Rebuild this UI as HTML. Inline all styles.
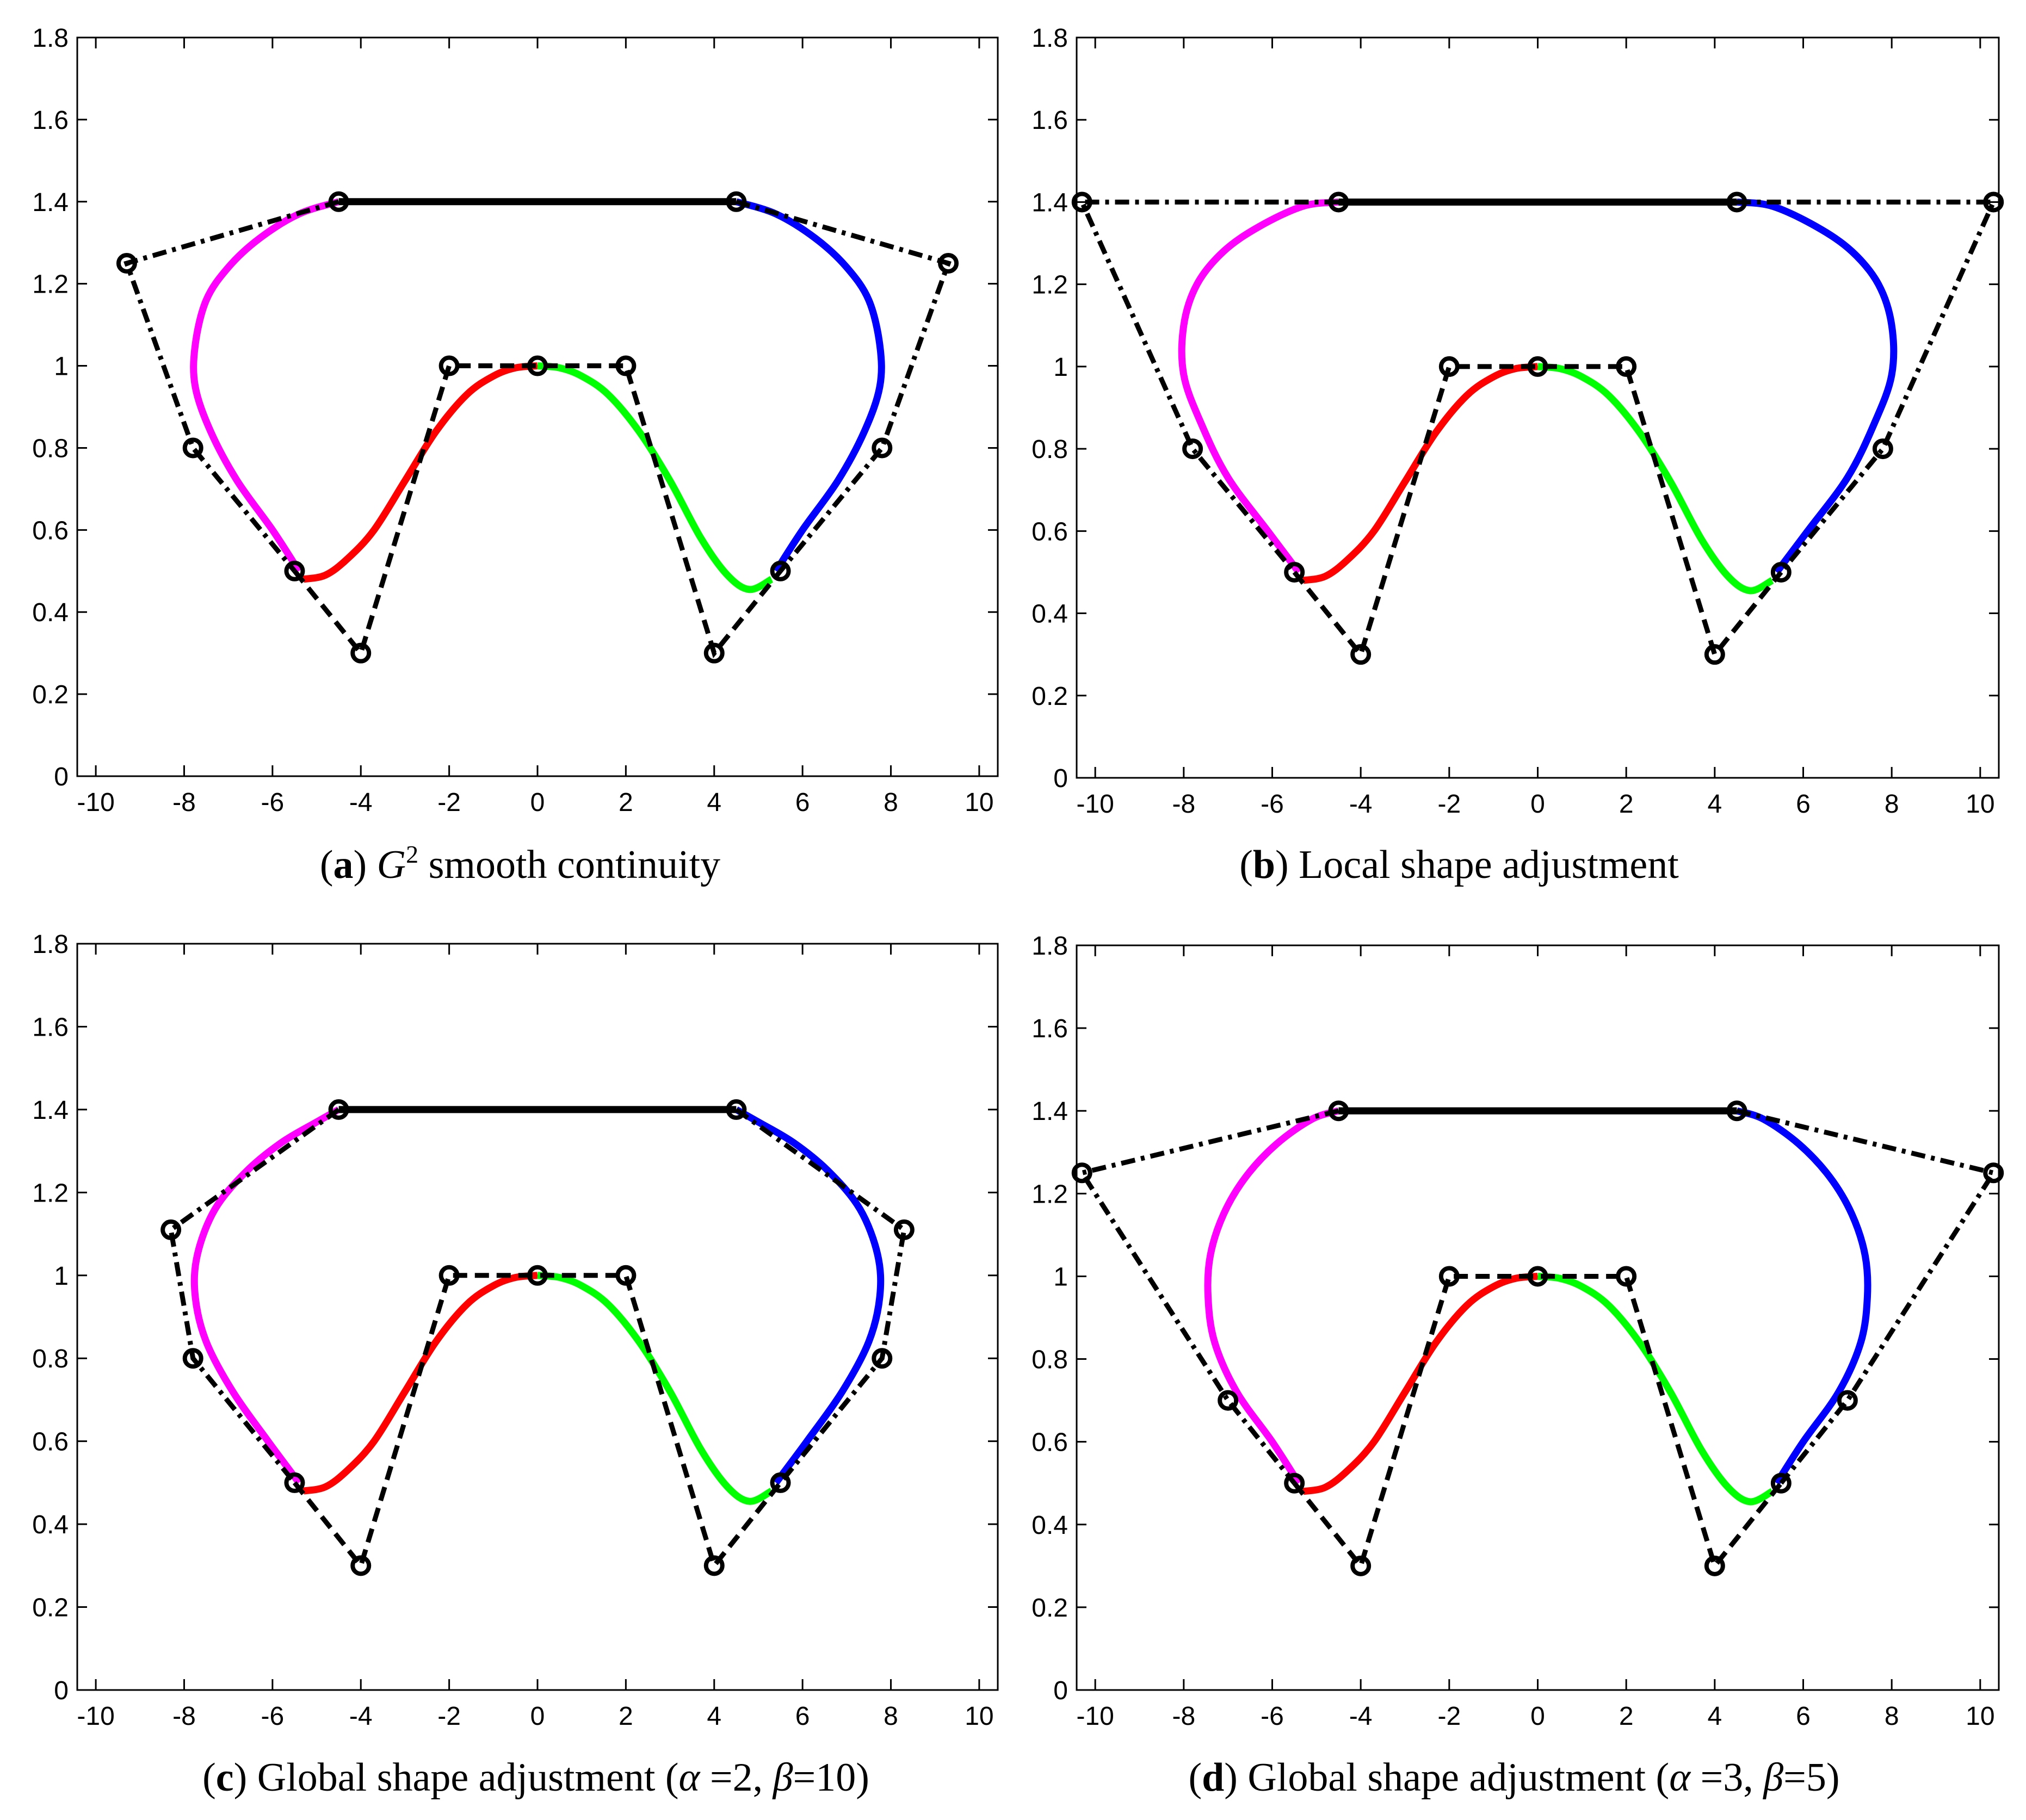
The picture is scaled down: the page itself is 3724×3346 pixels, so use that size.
<!DOCTYPE html>
<html><head><meta charset="utf-8"><style>
html,body{margin:0;padding:0;background:#fff;}
svg{display:block;}
</style></head><body>
<svg id="fig" xmlns="http://www.w3.org/2000/svg" width="3724" height="3346" viewBox="0 0 3724 3346"></svg>
<script>
const yTicks = [0,0.2,0.4,0.6,0.8,1,1.2,1.4,1.6,1.8];
const yTickLabels = ["0","0.2","0.4","0.6","0.8","1","1.2","1.4","1.6","1.8"];
const xTicks = [-10,-8,-6,-4,-2,0,2,4,6,8,10];
const xTickLabels = ["-10","-8","-6","-4","-2","0","2","4","6","8","10"];
const panelIds = ["a","b","c","d"];
// inner (dashed) polygon shared by all panels
const innerX = [-5.5,-4,-2,0,2,4,5.5];
const innerY = [0.5,0.3,1,1,1,0.3,0.5];
// outer dash-dot polygons per panel (left side; right side mirrored)
const outerLX_a = [-4.5,-9.3,-7.8,-5.5], outerLY_a = [1.4,1.25,0.8,0.5];
const outerLX_b = [-4.5,-10.3,-7.8,-5.5], outerLY_b = [1.4,1.4,0.8,0.5];
const outerLX_c = [-4.5,-8.3,-7.8,-5.5], outerLY_c = [1.4,1.11,0.8,0.5];
const outerLX_d = [-4.5,-10.3,-7.0,-5.5], outerLY_d = [1.4,1.25,0.7,0.5];
// curves
const redX = [-5.3,-4.8,-4.3,-3.7,-3,-2.3,-1.6,-1,-0.5,0];
const redY = [0.48,0.49,0.53,0.6,0.72,0.84,0.93,0.975,0.995,1];
const greenX = [0,0.5,1,1.6,2.3,3,3.7,4.3,4.8,5.3];
const greenY = [1,0.995,0.975,0.93,0.84,0.72,0.58,0.49,0.455,0.48];
const magX_a = [-5.4,-6,-6.8,-7.4,-7.75,-7.75,-7.5,-7.0,-6.3,-5.4,-4.5];
const magY_a = [0.5,0.6,0.72,0.84,0.95,1.05,1.16,1.24,1.31,1.37,1.4];
const magX_b = [-5.4,-6.1,-7.0,-7.6,-8.0,-8.0,-7.7,-7.1,-6.3,-5.3,-4.5];
const magY_b = [0.5,0.6,0.73,0.86,0.98,1.1,1.2,1.28,1.34,1.39,1.4];
const magX_c = [-5.4,-6.1,-6.9,-7.5,-7.75,-7.7,-7.3,-6.6,-5.8,-5.0,-4.5];
const magY_c = [0.5,0.6,0.72,0.84,0.95,1.05,1.16,1.25,1.32,1.37,1.4];
const magX_d = [-5.4,-6.0,-6.8,-7.3,-7.45,-7.4,-7.1,-6.6,-5.9,-5.1,-4.5];
const magY_d = [0.5,0.6,0.72,0.84,0.95,1.05,1.15,1.24,1.32,1.38,1.4];
const panelsOuterLX = [outerLX_a,outerLX_b,outerLX_c,outerLX_d];
const panelsOuterLY = [outerLY_a,outerLY_b,outerLY_c,outerLY_d];
const panelsMagX = [magX_a,magX_b,magX_c,magX_d];
const panelsMagY = [magY_a,magY_b,magY_c,magY_d];
const captionTexts = [
  ['<tspan font-weight="bold">a</tspan>',') ','<tspan font-style="italic">G</tspan><tspan font-size="46" dy="-28">2</tspan><tspan dy="28"> smooth continuity</tspan>'],
  ['<tspan font-weight="bold">b</tspan>',') Local shape adjustment'],
  ['<tspan font-weight="bold">c</tspan>',') Global shape adjustment (<tspan font-style="italic">α</tspan> =2, <tspan font-style="italic">β</tspan>=10)'],
  ['<tspan font-weight="bold">d</tspan>',') Global shape adjustment (<tspan font-style="italic">α</tspan> =3, <tspan font-style="italic">β</tspan>=5)']
];

const boxes = [
  {L:142,R:1834,T:69,B:1427,cx:956,cy:1614},
  {L:1979,R:3674,T:69,B:1430,cx:2682,cy:1614},
  {L:142,R:1834,T:1735,B:3107,cx:985,cy:3292},
  {L:1979,R:3674,T:1738,B:3107,cx:2783,cy:3292}
];
const XMIN=-10.42, XMAX=10.42, YMIN=0, YMAX=1.8;
const NS="http://www.w3.org/2000/svg";
const svg=document.getElementById('fig');
function mk(tag,attrs,parent){const e=document.createElementNS(NS,tag);for(const k in attrs)e.setAttribute(k,attrs[k]);(parent||svg).appendChild(e);return e;}

function smoothPath(px,py){
  let d="M"+px[0]+","+py[0];
  for(let i=0;i<px.length-1;i++){
    const p0x=px[Math.max(0,i-1)],p0y=py[Math.max(0,i-1)];
    const p3x=px[Math.min(px.length-1,i+2)],p3y=py[Math.min(px.length-1,i+2)];
    const c1x=px[i]+(px[i+1]-p0x)/6,c1y=py[i]+(py[i+1]-p0y)/6;
    const c2x=px[i+1]-(p3x-px[i])/6,c2y=py[i+1]-(p3y-py[i])/6;
    d+=" C"+c1x+","+c1y+" "+c2x+","+c2y+" "+px[i+1]+","+py[i+1];
  }
  return d;
}

panelIds.forEach((id,pi)=>{
  const b=boxes[pi];
  const sx=v=>b.L+(v-XMIN)/(XMAX-XMIN)*(b.R-b.L);
  const sy=v=>b.B-(v-YMIN)/(YMAX-YMIN)*(b.B-b.T);
  const g=mk('g',{});
  
  
  const frame=mk('rect',{x:b.L,y:b.T,width:b.R-b.L,height:b.B-b.T,fill:'none',stroke:'#000','stroke-width':3},g);
  
  
  yTicks.forEach((v,i)=>{
    const y=sy(v);
    mk('line',{x1:b.L,y1:y,x2:b.L+18,y2:y,stroke:'#000','stroke-width':3},g);
    mk('line',{x1:b.R,y1:y,x2:b.R-18,y2:y,stroke:'#000','stroke-width':3},g);
    const t=mk('text',{x:b.L-16,y:y+17,'text-anchor':'end','font-family':'Liberation Sans, sans-serif','font-size':48},g);
    t.textContent=yTickLabels[i];
    
    
  });
  xTicks.forEach((v,i)=>{
    const x=sx(v);
    mk('line',{x1:x,y1:b.B,x2:x,y2:b.B-20,stroke:'#000','stroke-width':3},g);
    mk('line',{x1:x,y1:b.T,x2:x,y2:b.T+20,stroke:'#000','stroke-width':3},g);
    const t=mk('text',{x:x,y:b.B+64,'text-anchor':'middle','font-family':'Liberation Sans, sans-serif','font-size':48},g);
    t.textContent=xTickLabels[i];
    
    
  });
  const mX=panelsMagX[pi], mY=panelsMagY[pi];
  const curves=[
    [mX,mY,'#ff00ff','magenta-curve'],
    [mX.map(v=>-v),mY,'#0000ff','blue-curve'],
    [redX,redY,'#ff0000','red-curve'],
    [greenX,greenY,'#00ff00','green-curve']
  ];
  curves.forEach(c=>{
    const p=mk('path',{d:smoothPath(c[0].map(sx),c[1].map(sy)),fill:'none',stroke:c[2],'stroke-width':13,'stroke-linejoin':'round'},g);
    
    
  });
  const top=mk('line',{x1:sx(-4.5),y1:sy(1.4),x2:sx(4.5),y2:sy(1.4),stroke:'#000','stroke-width':13},g);
  
  
  const oX=panelsOuterLX[pi], oY=panelsOuterLY[pi];
  [oX, oX.map(v=>-v)].forEach((xs,k)=>{
    const pts=xs.map((v,i)=>sx(v)+","+sy(oY[i])).join(" ");
    const pl=mk('polyline',{points:pts,fill:'none',stroke:'#000','stroke-width':9,'stroke-dasharray':'26 11 7 11'},g);
    
    
  });
  const ip=mk('polyline',{points:innerX.map((v,i)=>sx(v)+","+sy(innerY[i])).join(" "),fill:'none',stroke:'#000','stroke-width':9,'stroke-dasharray':'26 14'},g);
  
  
  const cps=[];
  innerX.forEach((v,i)=>cps.push([v,innerY[i]]));
  oX.forEach((v,i)=>{ if(i>0 && i<oX.length-1){cps.push([v,oY[i]]);cps.push([-v,oY[i]]);} });
  cps.push([-4.5,1.4]);cps.push([4.5,1.4]);
  cps.forEach(p=>{
    const c=mk('circle',{cx:sx(p[0]),cy:sy(p[1]),r:15,fill:'none',stroke:'#000','stroke-width':8},g);
    
    
  });
  const cap=mk('text',{x:b.cx,y:b.cy,'text-anchor':'middle','font-family':'Liberation Serif, serif','font-size':74},g);
  cap.innerHTML='('+captionTexts[pi].join('');
  
  
});
</script>
</body></html>
